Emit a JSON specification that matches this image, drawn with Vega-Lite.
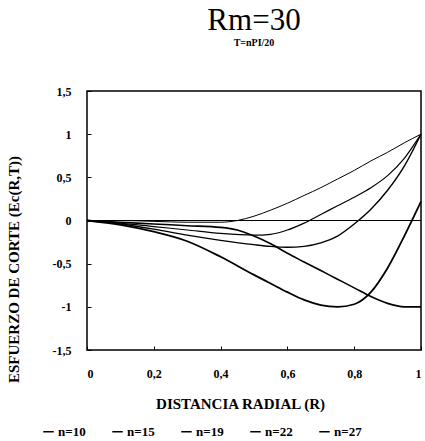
{
  "$schema": "https://vega.github.io/schema/vega-lite/v6.json",
  "autosize": "none",
  "width": 334,
  "height": 259,
  "padding": {"left": 87, "top": 91, "right": 4, "bottom": 91},
  "background": "white",
  "title": {
    "text": "Rm=30",
    "subtitle": "T=nPI/20",
    "font": "Liberation Serif, DejaVu Serif, serif",
    "fontSize": 31,
    "fontWeight": "normal",
    "color": "black",
    "subtitleFont": "Liberation Serif, DejaVu Serif, serif",
    "subtitleFontSize": 10,
    "subtitleFontWeight": "bold",
    "subtitleColor": "black",
    "subtitlePadding": 1,
    "anchor": "middle",
    "offset": 36
  },
  "config": {
    "view": {"stroke": "black", "strokeWidth": 1.5},
    "axis": {
      "grid": false,
      "domain": false,
      "tickColor": "black",
      "tickSize": -4,
      "labelFont": "Liberation Serif, DejaVu Serif, serif",
      "labelFontWeight": "bold",
      "labelFontSize": 12,
      "labelColor": "black",
      "titleFont": "Liberation Serif, DejaVu Serif, serif",
      "titleFontWeight": "bold",
      "titleFontSize": 15,
      "titleColor": "black"
    }
  },
  "data": {
    "values": [
      {"x": 0, "y": 0, "s": "n=10"}, {"x": 0.1, "y": 0.0, "s": "n=10"}, {"x": 0.2, "y": -0.01, "s": "n=10"}, {"x": 0.3, "y": -0.02, "s": "n=10"}, {"x": 0.4, "y": -0.02, "s": "n=10"}, {"x": 0.45, "y": 0.0, "s": "n=10"}, {"x": 0.5, "y": 0.05, "s": "n=10"}, {"x": 0.55, "y": 0.12, "s": "n=10"}, {"x": 0.6, "y": 0.2, "s": "n=10"}, {"x": 0.65, "y": 0.29, "s": "n=10"}, {"x": 0.7, "y": 0.38, "s": "n=10"}, {"x": 0.75, "y": 0.48, "s": "n=10"}, {"x": 0.8, "y": 0.58, "s": "n=10"}, {"x": 0.85, "y": 0.69, "s": "n=10"}, {"x": 0.9, "y": 0.79, "s": "n=10"}, {"x": 0.95, "y": 0.9, "s": "n=10"}, {"x": 1, "y": 1.0, "s": "n=10"},

      {"x": 0, "y": 0, "s": "n=15"}, {"x": 0.1, "y": -0.03, "s": "n=15"}, {"x": 0.2, "y": -0.07, "s": "n=15"}, {"x": 0.3, "y": -0.11, "s": "n=15"}, {"x": 0.4, "y": -0.15, "s": "n=15"}, {"x": 0.5, "y": -0.17, "s": "n=15"}, {"x": 0.55, "y": -0.16, "s": "n=15"}, {"x": 0.6, "y": -0.11, "s": "n=15"}, {"x": 0.65, "y": -0.03, "s": "n=15"}, {"x": 0.7, "y": 0.07, "s": "n=15"}, {"x": 0.75, "y": 0.17, "s": "n=15"}, {"x": 0.8, "y": 0.27, "s": "n=15"}, {"x": 0.85, "y": 0.38, "s": "n=15"}, {"x": 0.9, "y": 0.52, "s": "n=15"}, {"x": 0.95, "y": 0.72, "s": "n=15"}, {"x": 1, "y": 1.0, "s": "n=15"},

      {"x": 0, "y": 0, "s": "n=19"}, {"x": 0.1, "y": -0.04, "s": "n=19"}, {"x": 0.2, "y": -0.1, "s": "n=19"}, {"x": 0.3, "y": -0.17, "s": "n=19"}, {"x": 0.4, "y": -0.23, "s": "n=19"}, {"x": 0.5, "y": -0.28, "s": "n=19"}, {"x": 0.55, "y": -0.3, "s": "n=19"}, {"x": 0.6, "y": -0.31, "s": "n=19"}, {"x": 0.65, "y": -0.3, "s": "n=19"}, {"x": 0.7, "y": -0.26, "s": "n=19"}, {"x": 0.75, "y": -0.18, "s": "n=19"}, {"x": 0.8, "y": -0.04, "s": "n=19"}, {"x": 0.85, "y": 0.13, "s": "n=19"}, {"x": 0.9, "y": 0.35, "s": "n=19"}, {"x": 0.95, "y": 0.63, "s": "n=19"}, {"x": 1, "y": 1.0, "s": "n=19"},

      {"x": 0, "y": 0, "s": "n=22"}, {"x": 0.1, "y": -0.02, "s": "n=22"}, {"x": 0.2, "y": -0.04, "s": "n=22"}, {"x": 0.3, "y": -0.06, "s": "n=22"}, {"x": 0.4, "y": -0.08, "s": "n=22"}, {"x": 0.45, "y": -0.11, "s": "n=22"}, {"x": 0.5, "y": -0.18, "s": "n=22"}, {"x": 0.55, "y": -0.27, "s": "n=22"}, {"x": 0.6, "y": -0.38, "s": "n=22"}, {"x": 0.65, "y": -0.48, "s": "n=22"}, {"x": 0.7, "y": -0.58, "s": "n=22"}, {"x": 0.75, "y": -0.68, "s": "n=22"}, {"x": 0.8, "y": -0.78, "s": "n=22"}, {"x": 0.85, "y": -0.88, "s": "n=22"}, {"x": 0.9, "y": -0.96, "s": "n=22"}, {"x": 0.95, "y": -1.0, "s": "n=22"}, {"x": 1, "y": -1.0, "s": "n=22"},

      {"x": 0, "y": 0, "s": "n=27"}, {"x": 0.1, "y": -0.05, "s": "n=27"}, {"x": 0.2, "y": -0.13, "s": "n=27"}, {"x": 0.3, "y": -0.24, "s": "n=27"}, {"x": 0.4, "y": -0.42, "s": "n=27"}, {"x": 0.5, "y": -0.63, "s": "n=27"}, {"x": 0.55, "y": -0.73, "s": "n=27"}, {"x": 0.6, "y": -0.83, "s": "n=27"}, {"x": 0.65, "y": -0.92, "s": "n=27"}, {"x": 0.7, "y": -0.98, "s": "n=27"}, {"x": 0.75, "y": -1.0, "s": "n=27"}, {"x": 0.8, "y": -0.97, "s": "n=27"}, {"x": 0.85, "y": -0.83, "s": "n=27"}, {"x": 0.9, "y": -0.55, "s": "n=27"}, {"x": 0.95, "y": -0.18, "s": "n=27"}, {"x": 1, "y": 0.22, "s": "n=27"}
    ]
  },
  "layer": [
    {
      "data": {"values": [{"y0": 0}]},
      "mark": {"type": "rule", "color": "black", "strokeWidth": 1},
      "encoding": {"y": {"field": "y0", "type": "quantitative"}}
    },
    {
      "mark": {"type": "line", "interpolate": "monotone"},
      "encoding": {
        "x": {
          "field": "x", "type": "quantitative",
          "scale": {"domain": [0, 1], "nice": false},
          "axis": {"values": [0, 0.2, 0.4, 0.6, 0.8, 1], "title": "DISTANCIA RADIAL (R)", "labelPadding": 22, "titlePadding": 17, "titleX": 153,
                   "labelExpr": "replace(toString(datum.value), '.', ',')"}
        },
        "y": {
          "field": "y", "type": "quantitative",
          "scale": {"domain": [-1.5, 1.5], "nice": false},
          "axis": {"values": [-1.5, -1, -0.5, 0, 0.5, 1, 1.5], "title": "ESFUERZO DE CORTE (Ec(R,T))", "labelPadding": 20, "titlePadding": 31, "titleY": 178,
                   "labelExpr": "replace(toString(datum.value), '.', ',')"}
        },
        "color": {
          "field": "s", "type": "nominal",
          "scale": {"range": ["black", "black", "black", "black", "black"]},
          "legend": {
            "title": null, "orient": "none", "direction": "horizontal",
            "legendX": -45, "legendY": 334,
            "symbolType": "stroke", "symbolSize": 110, "symbolStrokeWidth": 1.5,
            "labelFont": "Liberation Serif, DejaVu Serif, serif", "labelFontWeight": "bold", "labelFontSize": 13, "labelColor": "black",
            "labelOffset": 3,
            "columnPadding": 23
          }
        },
        "strokeWidth": {
          "field": "s", "type": "nominal",
          "scale": {"domain": ["n=10", "n=15", "n=19", "n=22", "n=27"], "range": [1, 1.8, 1.8, 1.1, 1.8]},
          "legend": null
        }
      }
    }
  ]
}
